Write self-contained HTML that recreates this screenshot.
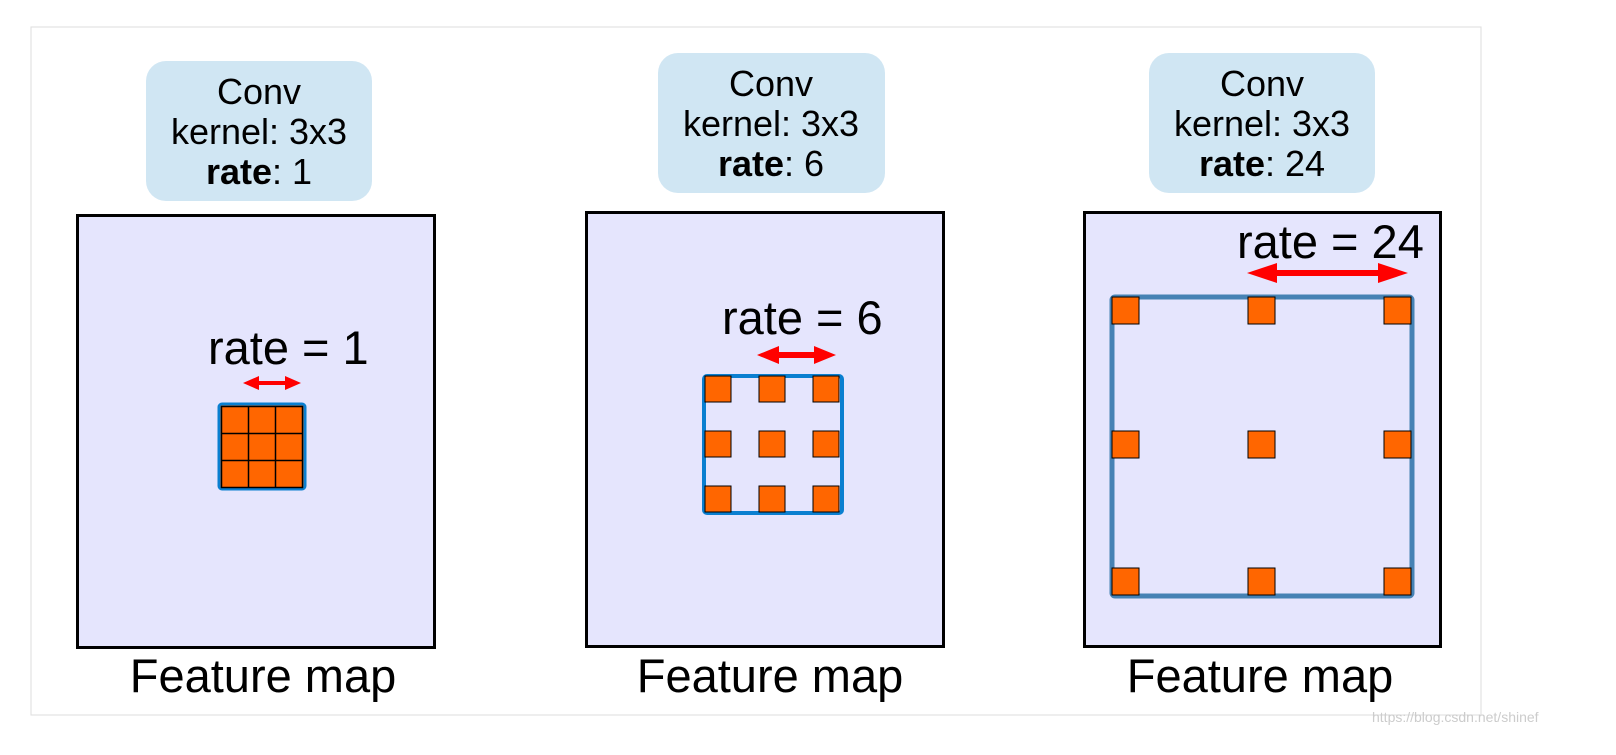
<!DOCTYPE html>
<html><head><style>html,body{margin:0;padding:0;background:#fff;width:1616px;height:755px;overflow:hidden}svg{display:block}text{font-family:"Liberation Sans",sans-serif}</style></head><body>
<svg width="1616" height="755" viewBox="0 0 1616 755" xmlns="http://www.w3.org/2000/svg">
<rect x="31" y="27" width="1450" height="688" fill="#fff" stroke="#ddd" stroke-width="1"/>
<rect x="146" y="61" width="226" height="140" rx="20" fill="#d0e6f3"/>
<rect x="658" y="53" width="227" height="140" rx="20" fill="#d0e6f3"/>
<rect x="1149" y="53" width="226" height="140" rx="20" fill="#d0e6f3"/>
<g font-size="36" text-anchor="middle" fill="#000">
<text x="259" y="104">Conv</text><text x="259" y="144">kernel: 3x3</text><text x="259" y="184"><tspan font-weight="bold">rate</tspan>: 1</text>
<text x="771" y="96">Conv</text><text x="771" y="136">kernel: 3x3</text><text x="771" y="176"><tspan font-weight="bold">rate</tspan>: 6</text>
<text x="1262" y="96">Conv</text><text x="1262" y="136">kernel: 3x3</text><text x="1262" y="176"><tspan font-weight="bold">rate</tspan>: 24</text>
</g>
<rect x="77.5" y="215.5" width="357" height="432" fill="#e5e5fd" stroke="#000" stroke-width="3"/>
<rect x="586.5" y="212.5" width="357" height="434" fill="#e5e5fd" stroke="#000" stroke-width="3"/>
<rect x="1084.5" y="212.5" width="356" height="434" fill="#e5e5fd" stroke="#000" stroke-width="3"/>
<g font-size="47" fill="#000">
<text x="208" y="364">rate = 1</text>
<text x="722" y="334">rate = 6</text>
<text x="1237" y="258">rate = 24</text>
</g>
<g font-size="47" fill="#000" text-anchor="middle">
<text x="263" y="692">Feature map</text><text x="770" y="692">Feature map</text><text x="1260" y="692">Feature map</text>
</g>
<g fill="#f00">
<polygon points="243,383 259,376 259,381 285,381 285,376 301,383 285,390 285,385 259,385 259,390"/>
<polygon points="757,355 779,346 779,352 814,352 814,346 836,355 814,364 814,358 779,358 779,364"/>
<polygon points="1247,273 1277,263 1277,270 1378,270 1378,263 1408,273 1378,283 1378,276 1277,276 1277,283"/>
</g>
<rect x="219" y="404" width="86" height="85" rx="3" fill="#f60" stroke="#0a7fd0" stroke-width="3"/>
<g stroke="#000" stroke-width="1.5" fill="none">
<rect x="221.5" y="406.5" width="81" height="81"/>
<line x1="248.5" y1="406" x2="248.5" y2="488"/><line x1="275.5" y1="406" x2="275.5" y2="488"/>
<line x1="221" y1="433.5" x2="303" y2="433.5"/><line x1="221" y1="460.5" x2="303" y2="460.5"/>
</g>
<rect x="704" y="376" width="138" height="137" rx="3" fill="none" stroke="#0a7fd0" stroke-width="4"/>
<g fill="#f60" stroke="#000" stroke-width="1">
<rect x="705" y="376" width="26" height="26"/><rect x="759" y="376" width="26" height="26"/><rect x="813" y="376" width="26" height="26"/>
<rect x="705" y="431" width="26" height="26"/><rect x="759" y="431" width="26" height="26"/><rect x="813" y="431" width="26" height="26"/>
<rect x="705" y="486" width="26" height="26"/><rect x="759" y="486" width="26" height="26"/><rect x="813" y="486" width="26" height="26"/>
</g>
<rect x="1112" y="297" width="300" height="299" rx="3" fill="none" stroke="#4682b4" stroke-width="5"/>
<g fill="#f60" stroke="#000" stroke-width="1">
<rect x="1112" y="297" width="27" height="27"/><rect x="1248" y="297" width="27" height="27"/><rect x="1384" y="297" width="27" height="27"/>
<rect x="1112" y="431" width="27" height="27"/><rect x="1248" y="431" width="27" height="27"/><rect x="1384" y="431" width="27" height="27"/>
<rect x="1112" y="568" width="27" height="27"/><rect x="1248" y="568" width="27" height="27"/><rect x="1384" y="568" width="27" height="27"/>
</g>
<text x="1372" y="722" font-size="14" fill="#ccc">https://blog.csdn.net/shinef</text>
</svg>
</body></html>
